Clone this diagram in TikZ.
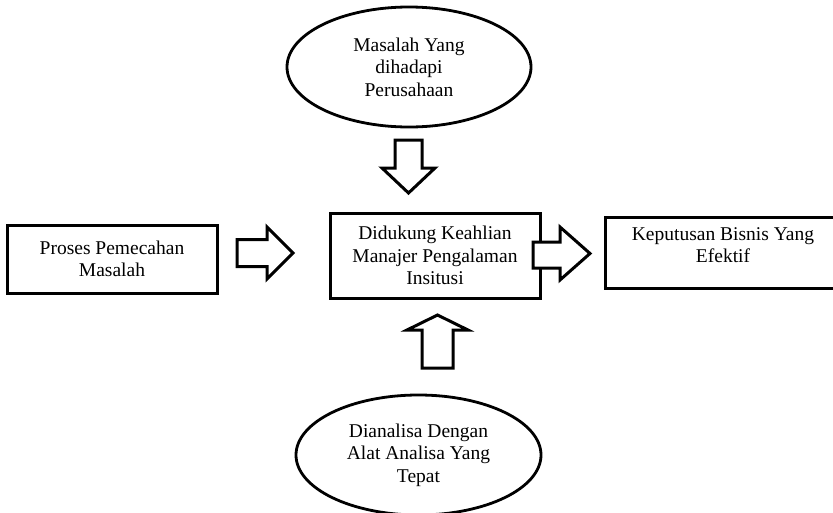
\documentclass[tikz,border=0pt]{standalone}
\usepackage{fontspec}
\setmainfont{Liberation Serif}
\usetikzlibrary{shapes.geometric}
\tikzset{
  txt/.style={font=\fontsize{19.5}{22.5}\selectfont, align=center, inner sep=0pt},
  box/.style={draw, line width=3pt, rectangle, inner sep=0pt, txt},
  oval/.style={draw, line width=2.8pt, ellipse, inner sep=0pt, txt},
  blockarrow/.style={draw, line width=3pt, line join=miter, fill=white}
}
\begin{document}
\begin{tikzpicture}[x=1pt,y=-1pt]
\useasboundingbox (0,0) rectangle (833,512);
% nodes
\node[oval, minimum width=244pt, minimum height=120pt] (top) at (409,67) {Masalah Yang\\dihadapi\\Perusahaan};
\node[box, minimum width=210pt, minimum height=68pt] (left) at (112,259) {Proses Pemecahan\\Masalah};
\node[box, minimum width=210pt, minimum height=85pt] (center) at (435,255.5) {Didukung Keahlian\\Manajer Pengalaman\\Insitusi};
\node[box, minimum width=236pt, minimum height=71pt] (right) at (723,252.5) {};
\node[txt] (righttext) at (723,245) {Keputusan Bisnis Yang\\Efektif};
\node[oval, minimum width=245pt, minimum height=120pt] (bottom) at (418.5,455) {Dianalisa Dengan\\Alat Analisa Yang\\Tepat};
% block arrows
% down arrow (top -> center)
\draw[blockarrow] (395,140) -- (422,140) -- (422,168) -- (435,168) -- (408.5,193) -- (382,168) -- (395,168) -- cycle;
% right arrow (left -> center)
\draw[blockarrow] (237,239.5) -- (267,239.5) -- (267,227) -- (293,253) -- (267,279) -- (267,266.5) -- (237,266.5) -- cycle;
% right arrow (center -> right)
\draw[blockarrow] (533,242) -- (560,242) -- (560,227) -- (590,253.5) -- (560,280) -- (560,268) -- (533,268) -- cycle;
% up arrow (bottom -> center)
\draw[blockarrow] (422,368) -- (422,330) -- (407,330) -- (437.5,315) -- (468,330) -- (453,330) -- (453,368) -- cycle;
\end{tikzpicture}
\end{document}
